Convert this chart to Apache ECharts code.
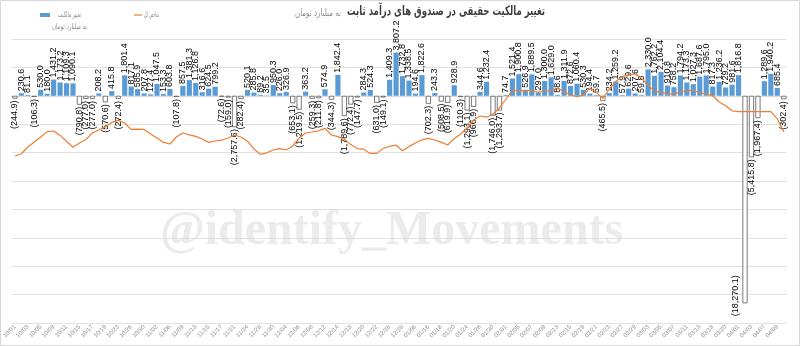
<!DOCTYPE html>
<html>
<head>
<meta charset="utf-8">
<script src="https://cdn.jsdelivr.net/npm/echarts@6/dist/echarts.min.js"></script>
<style>
  html, body { margin: 0; padding: 0; background: #fff; }
  #chart { width: 800px; height: 346px; }
</style>
</head>
<body>
<div id="chart"></div>
<script>
// تاریخ ها (روزهای معاملاتی)
var dates = [
  '10/01','10/02','10/03','10/04','10/05','10/08','10/09','10/10','10/11','10/12',
  '10/15','10/16','10/17','10/18','10/19','10/22','10/23','10/24','10/26','10/29','10/30',
  '11/01','11/02','11/03','11/06','11/07','11/09','11/10','11/13','11/14','11/15',
  '11/16','11/17','11/20','11/21','11/23','11/24','11/27','11/28','11/29','11/30',
  '12/01','12/04','12/05','12/06','12/07','12/08','12/11','12/12','12/13','12/14',
  '12/15','12/18','12/19','12/20','12/21','12/22','12/25','12/26','12/27','12/28',
  '01/05','01/06','01/09','01/16','01/17','01/18','01/19','01/20','01/23','01/24',
  '01/25','01/26','01/27','01/30','01/31',
  '02/01','02/02','02/05','02/06','02/07','02/08','02/09','02/12','02/13','02/14',
  '02/15','02/16','02/19','02/20','02/21','02/22','02/23','02/26','02/27','02/28','02/29','02/30',
  '03/03','03/04','03/05','03/06','03/07','03/10','03/11','03/12','03/13','03/17',
  '03/18','03/19','03/20','03/21',
  '04/01','04/02','04/03','04/04','04/07','04/08','04/09','04/10'
];

// تغییر مالکیت حقیقی (میلیارد تومان)
var flow = [
  -244.9, 230.6, 81.1, -106.3, 530.0, 180.0, 1431.2, 1173.2, 1109.3, 1090.1,
  -790.8, -277.0, -277.0, 208.2, -570.6, 415.8, -272.4, 1801.4, 817.1, 585.9,
  207.8, 127.4, 1047.5, 153.3, 603.8, -107.8, 857.5, 1381.3, 1126.8, 316.6,
  624.5, 799.2, -72.6, -159.0, -2757.6, -282.4, 520.1, 285.8, 89.2, 35.5,
  950.3, 226.0, 326.9, -653.1, -1219.5, 363.2, -259.3, -211.8, 574.9, -344.3,
  1842.4, -1789.6, -772.4, -147.7, 284.3, 524.3, -631.0, -149.1, 1409.3, 3807.2,
  1732.8, 1338.5, 194.6, 1822.6, -702.3, 243.3, -508.5, -619.9, 928.9, -110.3,
  -1293.1, -966.9, 344.6, 1232.4, -1746.0, -1293.7, 74.7, 1521.4, 1900.8, 526.9,
  1889.5, 297.0, 1300.0, 1629.0, 88.6, 1311.9, 872.6, 1060.4, 530.3, 194.4,
  59.7, -465.5, 234.2, 1259.2, 57.9, 629.6, 207.6, 59.8, 2330.0, 1762.2,
  2104.4, 910.8, 758.2, 1794.2, 1173.3, 1027.3, 1687.6, 1795.0, 817.3, 1236.2,
  729.2, 981.6, 1816.8, -18270.1, -5415.8, -1967.4, 1289.6, 1940.2, 685.4, -302.4
];

// شاخص کل (هزار واحد)
var tedpix = [
  2835, 2845, 2880, 2905, 2930, 2957, 2960, 2938, 2909, 2879,
  2900, 2918, 2950, 2965, 2980, 3003, 3013, 3000, 2968, 2969,
  2968, 2945, 2925, 2903, 2895, 2930, 2950, 2941, 2933, 2920,
  2903, 2910, 2914, 2925, 2940, 2930, 2909, 2870, 2843, 2851,
  2865, 2872, 2865, 2885, 2925, 2950, 2955, 2961, 2973, 2940,
  2932, 2919, 2892, 2872, 2869, 2848, 2848, 2873, 2884, 2889,
  2861, 2883, 2900, 2916, 2923, 2915, 2903, 2890, 2923, 2945,
  2975, 3015, 3035, 3029, 3045, 3075, 3120, 3162, 3162, 3162,
  3164, 3154, 3160, 3160, 3175, 3156, 3140, 3132, 3139, 3175,
  3152, 3123, 3170, 3208, 3232, 3242, 3245, 3223, 3188, 3159,
  3153, 3146, 3144, 3158, 3160, 3165, 3150, 3145, 3136, 3105,
  3086, 3061, 3057, 3057, 3057, 3057, 3057, 3057, 3021, 2955
];

var faFont = '"DejaVu Sans", "Noto Sans", sans-serif';

function fmt (v) {
  var s = Math.abs(v).toFixed(1).replace(/\B(?=(\d{3})+(?!\d))/g, ',');
  return v < 0 ? '(' + s + ')' : s;
}

// فونت فارسی پهن است؛ متن را به عرض تصویر اصلی فشرده می کنیم
var measureCtx = document.createElement('canvas').getContext('2d');
function fitScale (text, font, width) {
  measureCtx.font = font;
  return width / measureCtx.measureText(text).width;
}

function faText (text, x, y, font, fill, width, align) {
  return {
    type: 'text',
    x: x,
    y: y,
    scaleX: fitScale(text, font, width),
    style: { text: text, font: font, fill: fill, align: align || 'left', verticalAlign: 'middle' }
  };
}

var myChart = echarts.init(document.getElementById('chart'));

// میله های منفی: سفید با حاشیه خاکستری
var barData = flow.map(function (v) {
  if (v < 0) {
    var item = {
      value: v,
      itemStyle: { color: '#ffffff', borderColor: '#595959', borderWidth: 0.8 },
      label: { position: 'bottom', align: 'right' }
    };
    // برچسب بزرگترین خروج کنار میله
    if (v < -10000) {
      item.label = { position: 'insideBottom', align: 'left', distance: 0, offset: [-13, -9] };
    }
    return item;
  }
  return { value: v };
});

var titleFont = 'bold 13px ' + faFont;
var smallFont = '10px ' + faFont;
var legendFont = '8px ' + faFont;

var option = {
  animation: false,
  grid: {
    left: 9.5,
    right: 13,
    top: 39,
    bottom: 23
  },
  xAxis: {
    type: 'category',
    data: dates,
    axisTick: { show: false },
    axisLine: { lineStyle: { color: '#d9d9d9' } },
    axisLabel: {
      interval: 1,
      rotate: 45,
      fontSize: 6,
      color: '#8c8c8c',
      margin: 3
    }
  },
  yAxis: [{
    type: 'value',
    min: -20000,
    max: 5000,
    interval: 2500,
    axisLabel: { show: false },
    axisTick: { show: false },
    axisLine: { show: false },
    splitLine: { show: true, lineStyle: { color: '#d9d9d9', width: 0.8 } }
  }, {
    type: 'value',
    min: 2000,
    max: 3420,
    show: false,
    splitLine: { show: false }
  }],
  series: [
    {
      name: 'تغییر مالکیت',
      type: 'bar',
      barCategoryGap: '20%',
      itemStyle: { color: '#5b9bd5' },
      data: barData,
      label: {
        show: true,
        position: 'top',
        rotate: 90,
        align: 'left',
        verticalAlign: 'middle',
        distance: 2,
        fontSize: 9,
        fontFamily: 'Liberation Sans, Arial, sans-serif',
        color: '#000',
        formatter: function (p) { return fmt(p.value); }
      }
    },
    {
      name: 'شاخص کل',
      type: 'line',
      yAxisIndex: 1,
      showSymbol: false,
      symbol: 'none',
      data: tedpix,
      lineStyle: { color: '#ed7d31', width: 1.2 }
    }
  ],
  graphic: [
    // عنوان
    faText('تغییر مالکیت حقیقی در صندوق های درآمد ثابت', 545, 12, titleFont, '#404040', 198, 'right'),
    faText('به میلیارد تومان', 341, 13, smallFont, '#8c8c8c', 46, 'right'),
    // راهنما
    { type: 'rect', shape: { x: 40, y: 13, width: 10, height: 4 }, style: { fill: '#5b9bd5' } },
    faText('تغییر مالکیت', 58, 15, legendFont, '#8c8c8c', 23),
    { type: 'line', shape: { x1: 134, y1: 15, x2: 142, y2: 15 }, style: { stroke: '#ed7d31', lineWidth: 1.2 } },
    faText('شاخص کل', 144, 15, legendFont, '#8c8c8c', 15),
    faText('به میلیارد تومان', 52, 27, legendFont, '#8c8c8c', 35),
    // واترمارک
    {
      type: 'text',
      left: 160,
      top: 208,
      z: 0,
      style: {
        text: '@identify_Movements',
        font: 'bold 48px "Liberation Serif", "DejaVu Serif", serif',
        fill: '#ebebeb'
      }
    },
    {
      type: 'rect',
      shape: { x: 0.5, y: 0.5, width: 799, height: 345 },
      style: { fill: 'none', stroke: '#d9d9d9', lineWidth: 1 },
      silent: true
    }
  ]
};

myChart.setOption(option);
window.addEventListener('resize', function () {
  myChart.resize();
});
</script>
</body>
</html>
